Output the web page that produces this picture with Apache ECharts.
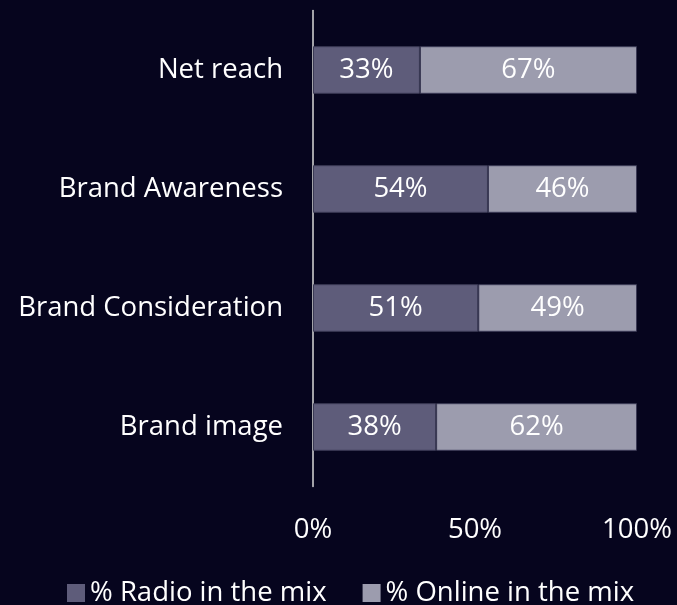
<!DOCTYPE html>
<html>
<head>
<meta charset="utf-8">
<script src="https://cdn.jsdelivr.net/npm/echarts@6/dist/echarts.min.js"></script>
<style>
  html, body { margin: 0; padding: 0; background: #06051e; }
  #chart { width: 677px; height: 605px; }
</style>
</head>
<body>
<div id="chart"></div>
<script>
// Share of each channel in the media mix, per KPI
const categories = ['Net reach', 'Brand Awareness', 'Brand Consideration', 'Brand image'];
const radioShare = [33, 54, 51, 38];
const onlineShare = [67, 46, 49, 62];
const seriesNames = ['% Radio in the mix', '% Online in the mix'];
const xTicks = [0, 50, 100];

const FONT = '"Open Sans", sans-serif';
const FONT_SIZE = 27.5;
const chart = echarts.init(document.getElementById('chart'));

const barLabel = {
  show: true,
  position: 'inside',
  color: '#ffffff',
  fontFamily: FONT,
  fontSize: FONT_SIZE,
  formatter: p => p.value + '%'
};

chart.setOption({
  backgroundColor: '#06051e',
  animation: false,
  grid: { left: 313, right: 40, top: 10.5, height: 476 },
  legend: {
    top: 574,
    left: 62,
    itemWidth: 18,
    itemHeight: 18,
    itemGap: 36,
    icon: 'rect',
    itemStyle: { borderWidth: 0 },
    textStyle: { color: '#ffffff', fontFamily: FONT, fontSize: FONT_SIZE },
    data: seriesNames
  },
  xAxis: {
    type: 'value',
    min: 0,
    max: 100,
    interval: 50,
    splitLine: { show: false },
    axisLine: { show: false },
    axisTick: { show: false },
    axisLabel: {
      color: '#ffffff',
      fontFamily: FONT,
      fontSize: FONT_SIZE,
      margin: 30,
      formatter: v => (xTicks.includes(v) ? v + '%' : '')
    }
  },
  yAxis: {
    type: 'category',
    inverse: true,
    data: categories,
    axisLine: { show: true, lineStyle: { color: '#d9d9d9', width: 1.5 } },
    axisTick: { show: false },
    axisLabel: {
      color: '#ffffff',
      fontFamily: FONT,
      fontSize: FONT_SIZE,
      margin: 30
    }
  },
  series: [
    {
      name: seriesNames[0],
      type: 'bar',
      stack: 'mix',
      barWidth: '40%',
      data: radioShare,
      itemStyle: { color: '#5e5c7a', borderColor: '#3b3a55', borderWidth: 1 },
      label: barLabel
    },
    {
      name: seriesNames[1],
      type: 'bar',
      stack: 'mix',
      barWidth: '40%',
      data: onlineShare,
      itemStyle: { color: '#9c9cae', borderColor: '#3b3a55', borderWidth: 1 },
      label: barLabel
    }
  ]
});
</script>
</body>
</html>
